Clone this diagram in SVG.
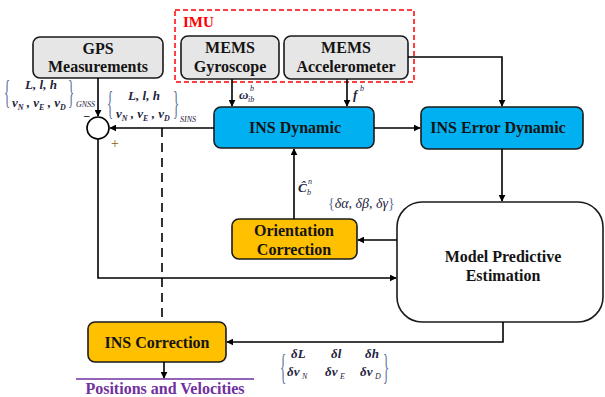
<svg xmlns="http://www.w3.org/2000/svg" width="605" height="397" viewBox="0 0 605 397">
<style>
.box{stroke:#1a1a1a;stroke-width:1.6}
.gray{fill:#e7e6e6}
.blue{fill:#00b0f0}
.orange{fill:#ffc000}
.t{font-weight:bold;font-size:16px;fill:#141414;text-anchor:middle}
.m{font-style:italic;font-weight:bold;font-size:13px;fill:#1f2540}
.sub{font-size:8px;fill:#1f2540;font-style:italic}
.br{font-size:16px;fill:#5a6e9a}
.ln{stroke:#000;stroke-width:1.6;fill:none}
</style>
<defs>
<marker id="ar" viewBox="0 0 10 10" refX="9" refY="5" markerWidth="7" markerHeight="7" markerUnits="userSpaceOnUse" orient="auto">
<path d="M0,0 L10,5 L0,10 z" fill="#000"/>
</marker>
</defs>

<g id="imu">
<rect x="175" y="10" width="239" height="72" fill="none" stroke="#ff0000" stroke-width="1.5" stroke-dasharray="5,3"/>
<text x="183" y="27" font-family="Liberation Serif, serif" font-weight="bold" font-size="15" fill="#ff0000">IMU</text>
</g>

<g id="gps">
<rect class="box gray" x="33" y="37" width="130" height="41" rx="7"/>
<text class="t" font-family="Liberation Serif, serif" x="98" y="54">GPS</text>
<text class="t" font-family="Liberation Serif, serif" x="98" y="72">Measurements</text>
</g>

<g id="gyro">
<rect class="box gray" x="181" y="36" width="98" height="43" rx="7"/>
<text class="t" font-family="Liberation Serif, serif" x="230" y="53">MEMS</text>
<text class="t" font-family="Liberation Serif, serif" x="230" y="72">Gyroscope</text>
</g>

<g id="accel">
<rect class="box gray" x="284" y="36" width="124" height="43" rx="7"/>
<text class="t" font-family="Liberation Serif, serif" x="346" y="53">MEMS</text>
<text class="t" font-family="Liberation Serif, serif" x="346" y="72">Accelerometer</text>
</g>

<g id="insdyn">
<rect class="box blue" x="214" y="107" width="160" height="41" rx="7"/>
<text class="t" font-family="Liberation Serif, serif" x="295" y="133">INS Dynamic</text>
</g>

<g id="inserr">
<rect class="box blue" x="421" y="107" width="162" height="42" rx="7"/>
<text class="t" font-family="Liberation Serif, serif" x="498" y="133">INS Error Dynamic</text>
</g>

<g id="orient">
<rect class="box orange" x="232" y="219" width="125" height="40" rx="7"/>
<text class="t" font-family="Liberation Serif, serif" x="294" y="236">Orientation</text>
<text class="t" font-family="Liberation Serif, serif" x="294" y="255">Correction</text>
</g>

<g id="mpe">
<rect class="box" fill="#fff" x="397" y="202" width="206" height="120" rx="25"/>
<text class="t" font-family="Liberation Serif, serif" x="503" y="262">Model Predictive</text>
<text class="t" font-family="Liberation Serif, serif" x="503" y="281">Estimation</text>
</g>

<g id="inscorr">
<rect class="box orange" x="88" y="322" width="138" height="40" rx="7"/>
<text class="t" font-family="Liberation Serif, serif" x="157" y="348">INS Correction</text>
</g>

<g id="sum">
<circle cx="98" cy="128" r="11" fill="#fff" stroke="#000" stroke-width="1.6"/>
<text x="84" y="119" font-family="Liberation Serif, serif" font-size="11" font-weight="bold" fill="#000">–</text>
<text x="111" y="148" font-family="Liberation Serif, serif" font-size="14" fill="#8b6000">+</text>
</g>

<g id="connectors">
<line class="ln" x1="98" y1="78" x2="98" y2="116" marker-end="url(#ar)"/>
<line class="ln" x1="214" y1="128" x2="110" y2="128" marker-end="url(#ar)"/>
<line class="ln" x1="232" y1="79" x2="232" y2="106" marker-end="url(#ar)"/>
<line class="ln" x1="347" y1="79" x2="347" y2="106" marker-end="url(#ar)"/>
<line class="ln" x1="374" y1="128" x2="420" y2="128" marker-end="url(#ar)"/>
<polyline class="ln" points="408,57 502,57 502,106" marker-end="url(#ar)"/>
<line class="ln" x1="502" y1="149" x2="502" y2="201" marker-end="url(#ar)"/>
<line class="ln" x1="397" y1="240" x2="358" y2="240" marker-end="url(#ar)"/>
<line class="ln" x1="294" y1="219" x2="294" y2="149" marker-end="url(#ar)"/>
<polyline class="ln" points="98,139 98,278 396,278" marker-end="url(#ar)"/>
<polyline class="ln" points="503,322 503,342 227,342" marker-end="url(#ar)"/>
<line class="ln" x1="164" y1="362" x2="164" y2="378" marker-end="url(#ar)"/>
<line x1="162" y1="128" x2="162" y2="320" stroke="#000" stroke-width="1.6" stroke-dasharray="9,6"/>
<line x1="76" y1="379" x2="254" y2="379" stroke="#7030a0" stroke-width="1.6"/>
</g>

<g id="labels" font-family="Liberation Serif, serif">
<text x="165" y="394" font-family="Liberation Serif, serif" font-weight="bold" font-size="16" fill="#7030a0" text-anchor="middle">Positions and Velocities</text>

<text class="br" font-family="Liberation Serif, serif" transform="translate(4,103) scale(0.8,2.1)">{</text>
<text class="m" font-family="Liberation Serif, serif" x="41" y="89" text-anchor="middle">L, l, h</text>
<text class="m" font-family="Liberation Serif, serif" x="12" y="107">v<tspan class="sub" dy="3">N</tspan><tspan dy="-3"> , v</tspan><tspan class="sub" dy="3">E</tspan><tspan dy="-3"> , v</tspan><tspan class="sub" dy="3">D</tspan></text>
<text class="br" font-family="Liberation Serif, serif" transform="translate(68,103) scale(0.8,2.1)">}</text>
<text class="sub" font-family="Liberation Serif, serif" x="76" y="107" font-style="normal">GNSS</text>

<text class="br" font-family="Liberation Serif, serif" transform="translate(107,114) scale(0.8,2.1)">{</text>
<text class="m" font-family="Liberation Serif, serif" x="144" y="100" text-anchor="middle">L, l, h</text>
<text class="m" font-family="Liberation Serif, serif" x="116" y="118">v<tspan class="sub" dy="3">N</tspan><tspan dy="-3"> , v</tspan><tspan class="sub" dy="3">E</tspan><tspan dy="-3"> , v</tspan><tspan class="sub" dy="3">D</tspan></text>
<text class="br" font-family="Liberation Serif, serif" transform="translate(173,114) scale(0.8,2.1)">}</text>
<text class="sub" font-family="Liberation Serif, serif" x="180" y="122" font-style="normal">SINS</text>

<text class="m" font-family="Liberation Serif, serif" x="239" y="99">ω</text>
<text class="sub" font-family="Liberation Serif, serif" x="248" y="102">ib</text>
<text class="sub" font-family="Liberation Serif, serif" x="250" y="91">b</text>
<text class="m" font-family="Liberation Serif, serif" x="353" y="99">f</text>
<text class="sub" font-family="Liberation Serif, serif" x="360" y="91">b</text>

<text class="m" font-family="Liberation Serif, serif" x="298" y="192">Ĉ</text>
<text class="sub" font-family="Liberation Serif, serif" x="307" y="195">b</text>
<text class="sub" font-family="Liberation Serif, serif" x="308" y="184">n</text>

<text x="328" y="208" font-family="Liberation Serif, serif" font-style="italic" font-size="14" fill="#1f2540"><tspan fill="#5a6e9a" font-style="normal">{</tspan>δα, δβ, δγ<tspan fill="#5a6e9a" font-style="normal">}</tspan></text>

<text class="br" font-family="Liberation Serif, serif" transform="translate(280,379) scale(0.8,2.3)">{</text>
<text class="m" font-family="Liberation Serif, serif" x="291" y="358">δL</text>
<text class="m" font-family="Liberation Serif, serif" x="331" y="358">δl</text>
<text class="m" font-family="Liberation Serif, serif" x="365" y="358">δh</text>
<text class="m" font-family="Liberation Serif, serif" x="287" y="376">δv</text>
<text class="sub" font-family="Liberation Serif, serif" x="302" y="379">N</text>
<text class="m" font-family="Liberation Serif, serif" x="325" y="376">δv</text>
<text class="sub" font-family="Liberation Serif, serif" x="340" y="379">E</text>
<text class="m" font-family="Liberation Serif, serif" x="360" y="376">δv</text>
<text class="sub" font-family="Liberation Serif, serif" x="375" y="379">D</text>
<text class="br" font-family="Liberation Serif, serif" transform="translate(383,379) scale(0.8,2.3)">}</text>
</g>
</svg>
